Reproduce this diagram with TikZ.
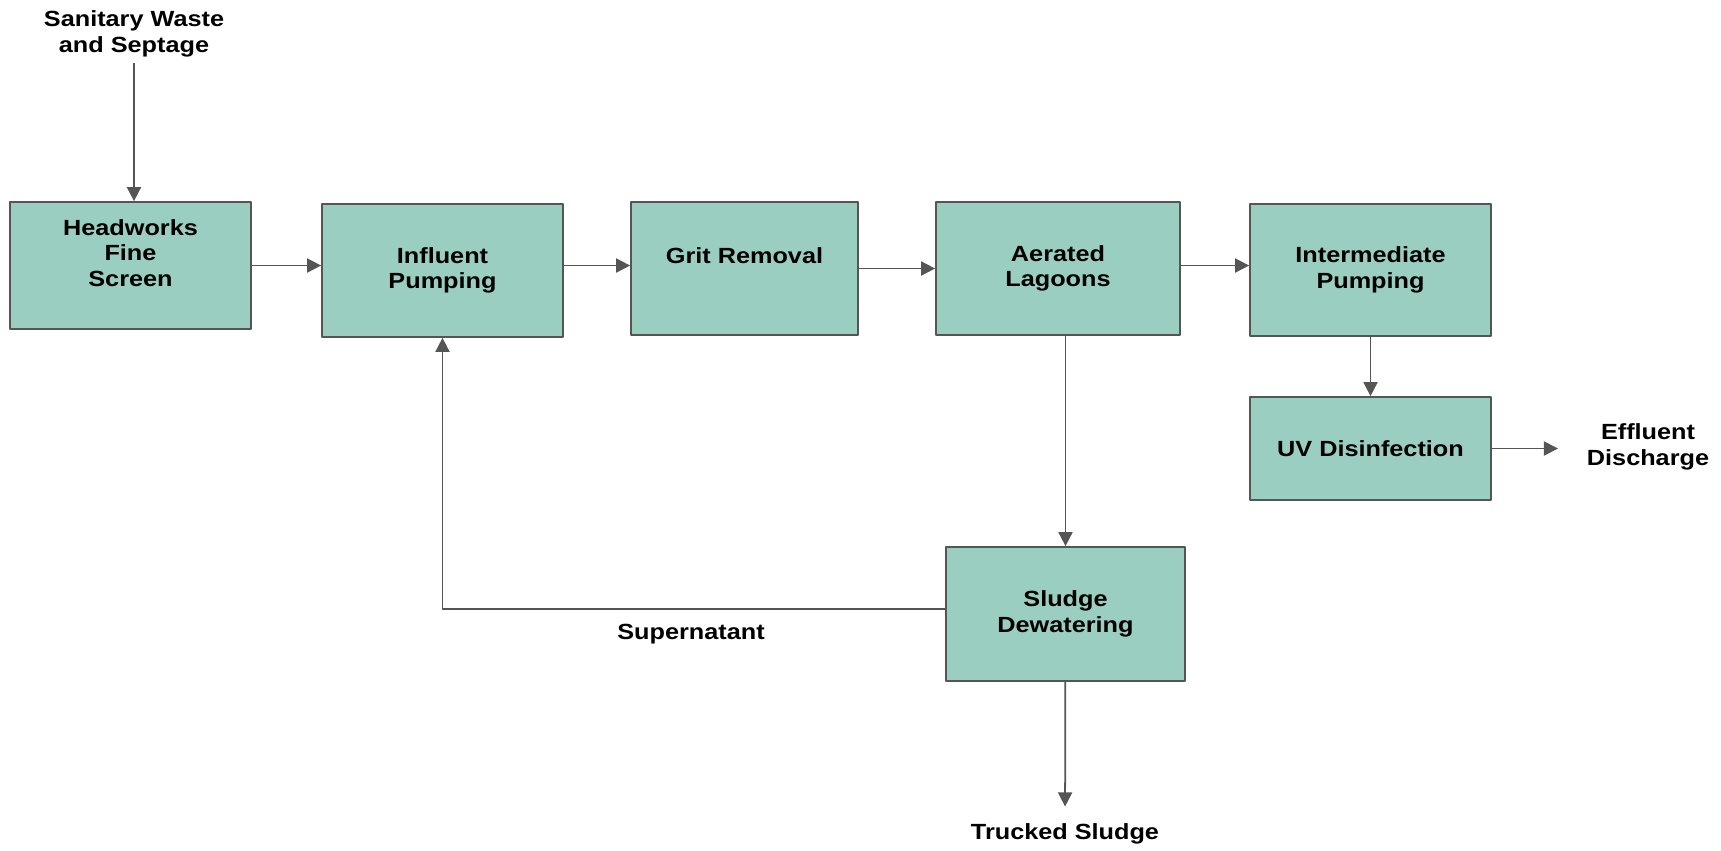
\documentclass[tikz,border=0pt]{standalone}
\usepackage{fontspec}
\setmainfont{Liberation Sans}[FakeStretch=1.15]
\usetikzlibrary{arrows.meta}
\definecolor{boxfill}{HTML}{99CEC1}
\definecolor{linegray}{HTML}{555555}

\begin{document}
\begin{tikzpicture}[x=0.02cm, y=-0.02cm, line join=round, >={Triangle[length=8pt,width=8pt]}]
            \tikzset{proc/.style={draw=linegray, fill=boxfill, line width=1pt, align=center, inner sep=0pt, font=\bfseries\fontsize{12.5}{14.5}\selectfont},
                     flow/.style={->, draw=linegray, line width=1pt},
                     tag/.style={align=center, font=\bfseries\fontsize{12.5}{14.5}\selectfont}}
            \useasboundingbox (0,0) rectangle (1721,850);
            % process boxes
            \node[proc, minimum width=4.82cm, minimum height=2.54cm] (head) at (130.5,265.5) {Headworks\\Fine\\Screen\\\mbox{}};
            \node[proc, minimum width=4.82cm, minimum height=2.66cm] (infl) at (442.5,270.5) {Influent\\Pumping};
            \node[proc, minimum width=4.54cm, minimum height=2.66cm] (grit) at (744.5,268.5) {Grit Removal\\\mbox{}};
            \node[proc, minimum width=4.88cm, minimum height=2.66cm] (aer) at (1058,268.5) {Aerated\\Lagoons};
            \node[proc, minimum width=4.82cm, minimum height=2.64cm] (inter) at (1370.5,270) {Intermediate\\Pumping};
            \node[proc, minimum width=4.82cm, minimum height=2.06cm] (uv) at (1370.5,448.5) {UV Disinfection};
            \node[proc, minimum width=4.78cm, minimum height=2.68cm] (sludge) at (1065.5,614) {Sludge\\Dewatering};
            % streams in and out
            \node[tag] (src) at (134,34) {Sanitary Waste\\and Septage};
            \node[tag] (eff) at (1648,447) {Effluent\\Discharge};
            \node[tag] (truck) at (1065,834) {Trucked Sludge};
            \node[tag] (super) at (691,634) {Supernatant};
            \coordinate (effin) at (1558,448.5);
            % connectors
            \draw[flow] (src) -- (src |- head.north);
            \draw[flow] (head.east) -- (head.east -| infl.west);
            \draw[flow] (infl.east |- head.east) -- (grit.west |- head.east);
            \draw[flow] (grit) -- (aer);
            \draw[flow] (aer.east |- head.east) -- (inter.west |- head.east);
            \draw[flow] (inter) -- (uv);
            \draw[flow] (uv.east) -- (effin);
            \draw[flow] (aer.south -| sludge) -- (sludge);
            \draw[flow] ([yshift=0.1cm]sludge.west) -| (infl.south);
            \draw[flow, shorten >=0.22cm] (sludge) -- (truck);
    \end{tikzpicture}
\end{document}
